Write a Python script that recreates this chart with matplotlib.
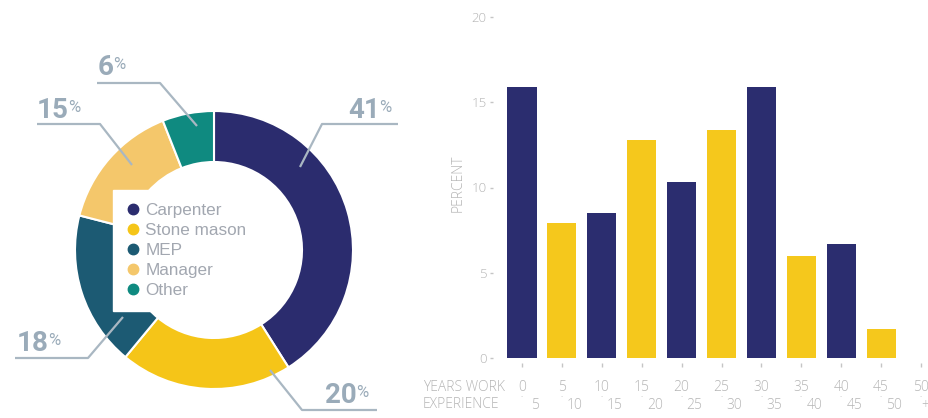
import matplotlib.pyplot as plt
from matplotlib.lines import Line2D

# data
roles = ['Carpenter', 'Stone mason', 'MEP', 'Manager', 'Other']
role_share = [41, 20, 18, 15, 6]
role_colors = ['#2b2c6e', '#f5c518', '#1c5a73', '#f4c76b', '#0f8a80']

years_from = ['0', '5', '10', '15', '20', '25', '30', '35', '40', '45', '50']
years_to = ['5', '10', '15', '20', '25', '30', '35', '40', '45', '50', '+']
percent = [15.9, 7.9, 8.5, 12.8, 10.3, 13.4, 15.9, 6.0, 6.7, 1.7, 0]
bar_colors = ['#2b2d6f', '#f5c81c'] * 5 + ['#2b2d6f']
y_ticks = [0, 5, 10, 15, 20]

W, H = 929, 418
grey = '#b5b5b5'
label_grey = '#9aabb9'
line_grey = '#a9b7c2'

fig = plt.figure(figsize=(W / 100, H / 100), dpi=100)

# donut, drawn in pixel coordinates
ax0 = fig.add_axes([0, 0, 1, 1])
wedges, _ = ax0.pie(role_share, colors=role_colors, startangle=90, counterclock=False,
                    center=(214, H - 250), radius=139,
                    wedgeprops=dict(width=51, edgecolor='white', linewidth=1.5))
ax0.set_xlim(0, W)
ax0.set_ylim(0, H)
ax0.set_aspect('auto')
ax0.axis('off')

# label layout: (text left, baseline), leader line points (pixels, y down)
label_pos = {
    'Carpenter': ((348, 118), [(398, 124), (322, 124), (300, 167)]),
    'Stone mason': ((325, 403), [(377, 410), (302, 410), (270, 370)]),
    'MEP': ((17, 351), [(15, 358), (88, 358), (123, 317)]),
    'Manager': ((37, 118), [(37, 124), (100, 124), (132, 165)]),
    'Other': ((98, 75), [(97, 83), (160, 83), (197, 126)]),
}
for role, share in zip(roles, role_share):
    (tx, ty), pts = label_pos[role]
    ax0.plot([p[0] for p in pts], [H - p[1] for p in pts], color=line_grey, lw=1.6,
             solid_capstyle='butt')
    t = ax0.text(tx, H - ty, str(share), fontsize=20, weight='bold', family='Roboto',
                 color=label_grey, ha='left', va='baseline')
    ax0.annotate('%', xy=(1, 1), xycoords=t, xytext=(-0.5, -2.5), textcoords='offset points',
                 fontsize=12, family='Roboto', color=label_grey, ha='left', va='top')

handles = [Line2D([], [], marker='o', ls='', color=c, markersize=7.5) for c in role_colors]
leg = ax0.legend(handles, roles, loc='upper left', bbox_to_anchor=(113 / W, 1 - 190 / H),
                 bbox_transform=fig.transFigure, borderaxespad=0, frameon=True,
                 facecolor='white', edgecolor='white', framealpha=1, fancybox=False,
                 handlelength=0.8, handletextpad=0.35, borderpad=0.75, labelspacing=0.3,
                 prop={'family': 'Liberation Sans', 'size': 12.3})
for txt in leg.get_texts():
    txt.set_color('#a2a7b0')

# bar chart
left, right, bottom, top = 497, 929, 358, 17
ax = fig.add_axes([left / W, 1 - bottom / H, (right - left) / W, (bottom - top) / H])
x = list(range(len(percent)))
ax.bar(x, percent, width=0.73, color=bar_colors)
ax.set_xlim(-0.627, 10.2)
ax.set_ylim(0, 20)
for s in ax.spines.values():
    s.set_visible(False)
ax.spines['bottom'].set_position(('outward', 3.6))
ax.spines['left'].set_position(('outward', 3))
ax.set_xticks(x)
ax.set_yticks(y_ticks)
ax.tick_params(axis='x', length=3, width=1, color='#c5c5c5', labelbottom=False)
ax.tick_params(axis='y', length=2.4, width=1, color='#c5c5c5', pad=2,
               labelsize=9.5, labelcolor=grey)
for lab in ax.get_yticklabels():
    lab.set_family('Open Sans')
    lab.set_weight('light')

font = dict(family='Open Sans', weight='light', color=grey, fontsize=10)
for i in x:
    ax.annotate(years_from[i], xy=(i, 0), xycoords=('data', 'axes fraction'),
                xytext=(0, -33), textcoords='offset pixels', ha='center', va='baseline', **font)
    ax.annotate('-', xy=(i, 0), xycoords=('data', 'axes fraction'),
                xytext=(0, -39), textcoords='offset pixels', ha='center', va='center',
                family='Open Sans', color='#d0d0d0', fontsize=5)
    dx = 4 if years_to[i] == '+' else 13
    ax.annotate(years_to[i], xy=(i, 0), xycoords=('data', 'axes fraction'),
                xytext=(dx, -51), textcoords='offset pixels', ha='center', va='baseline', **font)

fig.text(423 / W, 1 - 391 / H, 'YEARS WORK', ha='left', va='baseline', **font)
fig.text(423 / W, 1 - 408 / H, 'EXPERIENCE', ha='left', va='baseline', **font)
fig.text(458 / W, 1 - 183 / H, 'PERCENT', rotation=90, ha='center', va='center', **font)

fig.savefig('out.png', dpi=100, facecolor='white')
